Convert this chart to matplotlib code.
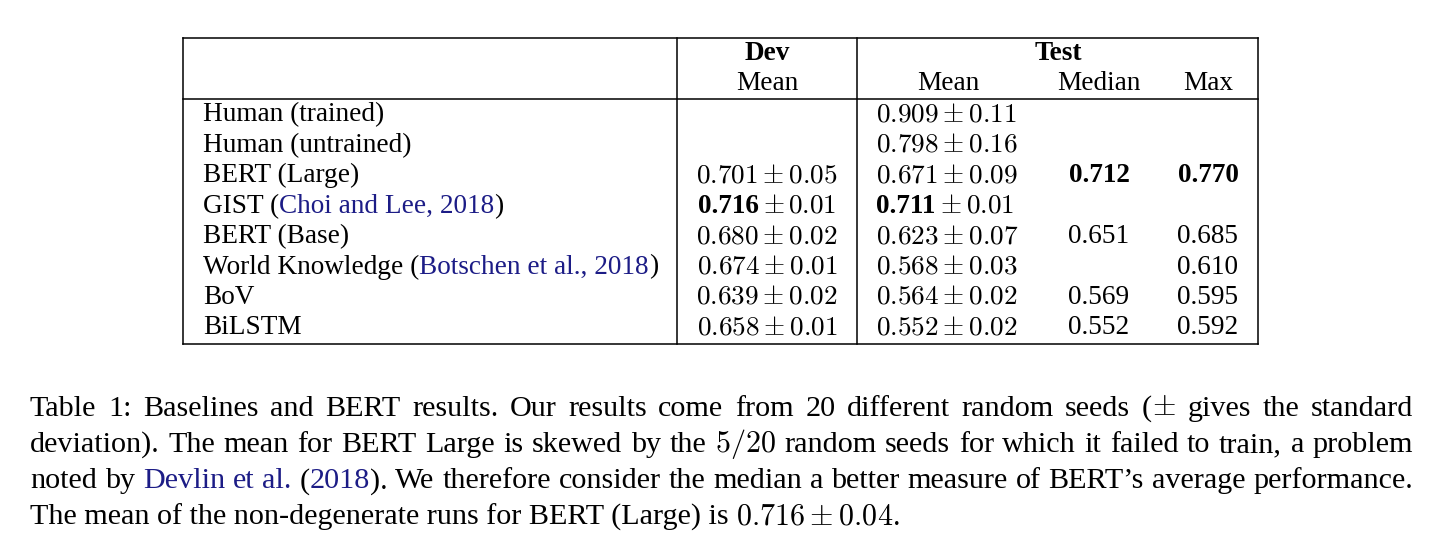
import matplotlib
matplotlib.use("Agg")
import matplotlib.pyplot as plt
from matplotlib.lines import Line2D

plt.rcParams['font.family'] = ['Liberation Serif', 'DejaVu Serif']
plt.rcParams['mathtext.fontset'] = 'cm'

W, H = 1438, 549
BLUE = '#1c1c86'

# ---------------- data ----------------
models = [
    [("Human (trained)", 'k')],
    [("Human (untrained)", 'k')],
    [("BERT (Large)", 'k')],
    [("GIST (", 'k'), ("Choi and Lee, 2018", BLUE), (")", 'k')],
    [("BERT (Base)", 'k')],
    [("World Knowledge (", 'k'), ("Botschen et al., 2018", BLUE), (")", 'k')],
    [("BoV", 'k')],
    [("BiLSTM", 'k')],
]
dev_mean = ["", "", "0.701", "0.716", "0.680", "0.674", "0.639", "0.658"]
dev_std = ["", "", "0.05", "0.01", "0.02", "0.01", "0.02", "0.01"]
test_mean = ["0.909", "0.798", "0.671", "0.711", "0.623", "0.568", "0.564", "0.552"]
test_std = ["0.11", "0.16", "0.09", "0.01", "0.07", "0.03", "0.02", "0.02"]
test_median = ["", "", "0.712", "", "0.651", "", "0.569", "0.552"]
test_max = ["", "", "0.770", "", "0.685", "0.610", "0.595", "0.592"]
bold_dev = [False, False, False, True, False, False, False, False]
bold_test_mean = [False, False, False, True, False, False, False, False]
bold_median = [False, False, True, False, False, False, False, False]
bold_max = [False, False, True, False, False, False, False, False]

caption_lines = [
    [[("Table", 'k')], [("1:", 'k')], [("Baselines", 'k')], [("and", 'k')], [("BERT", 'k')],
     [("results.", 'k')], [("Our", 'k')], [("results", 'k')], [("come", 'k')], [("from", 'k')],
     [("20", 'k')], [("different", 'k')], [("random", 'k')], [("seeds", 'k')],
     [("(", 'k'), (r"$\pm$", 'k')],
     [("gives", 'k')], [("the", 'k')], [("standard", 'k')]],
    [[w] for w in [("deviation).", 'k'), ("The", 'k'), ("mean", 'k'), ("for", 'k'), ("BERT", 'k'),
                   ("Large", 'k'), ("is", 'k'), ("skewed", 'k'), ("by", 'k'), ("the", 'k'),
                   (r"$5/20$", 'k'), ("random", 'k'), ("seeds", 'k'), ("for", 'k'), ("which", 'k'),
                   ("it", 'k'), ("failed", 'k'), ("to", 'k'), ("train,", 'k'), ("a", 'k'),
                   ("problem", 'k')]],
    [[("noted", 'k')], [("by", 'k')], [("Devlin", BLUE)], [("et", BLUE)], [("al.", BLUE)],
     [("(", 'k'), ("2018", BLUE), (").", 'k')], [("We", 'k')], [("therefore", 'k')],
     [("consider", 'k')], [("the", 'k')], [("median", 'k')], [("a", 'k')], [("better", 'k')],
     [("measure", 'k')], [("of", 'k')], [("BERT\u2019s", 'k')], [("average", 'k')],
     [("performance.", 'k')]],
    [[("The mean of the non-degenerate runs for BERT (Large) is ", 'k'),
      (r"$0.716 \pm 0.04$", 'k'), (".", 'k')]],
]

# ---------------- layout ----------------
fig = plt.figure(figsize=(W / 100, H / 100), dpi=100)
ax = fig.add_axes([0, 0, 1, 1])
ax.set_xlim(0, W)
ax.set_ylim(H, 0)
ax.axis('off')
fig.canvas.draw()
R = fig.canvas.get_renderer()

TFS = 19.6
CFS = 21.7


def _w(s, fs, weight):
    t = ax.text(0, 0, s, fontsize=fs, fontweight=weight)
    bb = t.get_window_extent(R)
    t.remove()
    return bb.width


def width(text, fs, weight='normal'):
    if '$' in text:
        return _w(text, fs, weight)
    return _w("|" + text + "|", fs, weight) - _w("||", fs, weight)


def draw_segs(x, y, segs, fs, ha='left'):
    ws = [width(s[0], fs, s[2] if len(s) > 2 else 'normal') for s in segs]
    tot = sum(ws)
    if ha == 'center':
        x -= tot / 2
    elif ha == 'right':
        x -= tot
    for s, w_ in zip(segs, ws):
        ax.text(x, y, s[0], color=s[1], fontsize=fs, va='baseline', ha='left',
                fontweight=s[2] if len(s) > 2 else 'normal')
        x += w_
    return tot


def draw_pm(x, y, mean, std, bold, fs, ha='left'):
    full = r"$%s \pm %s$" % (mean, std)
    if not bold:
        return draw_segs(x, y, [(full, 'k')], fs, ha)
    wfull = width(full, fs)
    wnum = width(r"$%s$" % mean, fs)
    wpm = width(r"$\pm$", fs)
    wstd = width(r"$%s$" % std, fs)
    gap = (wfull - wnum - wpm - wstd) / 2
    wb = width(mean, fs, 'bold')
    tot = wb + 2 * gap + wpm + wstd
    if ha == 'center':
        x -= tot / 2
    ax.text(x, y, mean, fontsize=fs, fontweight='bold', va='baseline', ha='left')
    ax.text(x + wb + gap, y, r"$\pm$", fontsize=fs, va='baseline', ha='left')
    ax.text(x + tot, y, r"$%s$" % std, fontsize=fs, va='baseline', ha='right')
    return tot


# table frame
L, Rt, T, Hd, B = 183, 1258, 37.5, 99, 344
V1, V2 = 677, 857
lw = 1.1
for xs, ys in [([L, Rt], [T, T]), ([L, Rt], [Hd, Hd]), ([L, Rt], [B, B]),
               ([L, L], [T, B]), ([Rt, Rt], [T, B]), ([V1, V1], [T, B]), ([V2, V2], [T, B])]:
    ax.add_line(Line2D(xs, ys, color='k', lw=lw, solid_capstyle='projecting'))

# header
draw_segs(767, 60, [("Dev", 'k', 'bold')], TFS, 'center')
draw_segs(767, 90, [("Mean", 'k')], TFS, 'center')
draw_segs(1058, 60, [("Test", 'k', 'bold')], TFS, 'center')
draw_segs(948, 90, [("Mean", 'k')], TFS, 'center')
draw_segs(1099, 90, [("Median", 'k')], TFS, 'center')
draw_segs(1208, 90, [("Max", 'k')], TFS, 'center')

row_y0, row_dy = 121.5, 30.4
for i in range(len(models)):
    y = row_y0 + i * row_dy
    draw_segs(203, y, models[i], TFS, 'left')
    if dev_mean[i]:
        draw_pm(767, y, dev_mean[i], dev_std[i], bold_dev[i], TFS, 'center')
    if test_mean[i]:
        draw_pm(876, y, test_mean[i], test_std[i], bold_test_mean[i], TFS, 'left')
    if test_median[i]:
        draw_segs(1099, y, [(test_median[i], 'k', 'bold' if bold_median[i] else 'normal')],
                  TFS, 'center')
    if test_max[i]:
        draw_segs(1208, y, [(test_max[i], 'k', 'bold' if bold_max[i] else 'normal')],
                  TFS, 'center')

# caption (justified)
CL, CR = 30, 1413
cap_y0, cap_dy = 415.5, 36.4
for li, words in enumerate(caption_lines):
    y = cap_y0 + li * cap_dy
    if li == len(caption_lines) - 1:
        draw_segs(CL, y, words[0], CFS, 'left')
        continue
    wws = [sum(width(s[0], CFS) for s in wd) for wd in words]
    gap = (CR - CL - sum(wws)) / (len(words) - 1)
    x = CL
    for wd, ww in zip(words, wws):
        draw_segs(x, y, wd, CFS, 'left')
        x += ww + gap

fig.savefig("out.png", dpi=100)
